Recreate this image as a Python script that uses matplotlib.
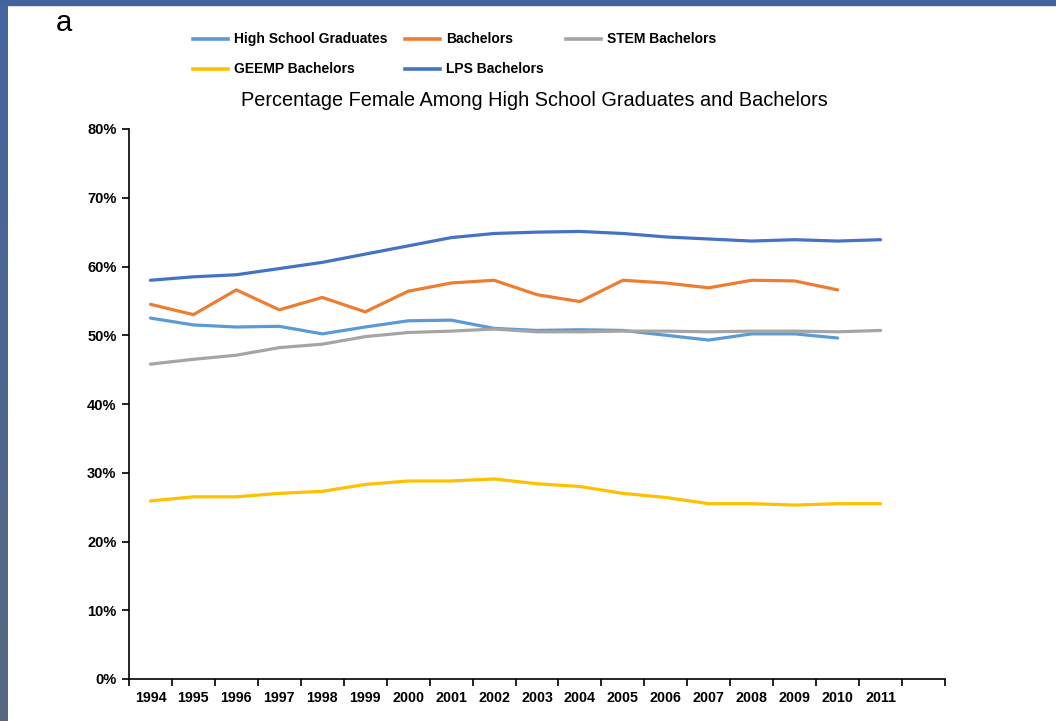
import numpy as np
import matplotlib
matplotlib.use("Agg")
import matplotlib.pyplot as plt
from matplotlib.lines import Line2D
from matplotlib.ticker import FixedLocator, NullFormatter

# data (percent female)
years = [str(y) for y in range(1994, 2012)]
high_school = [52.5, 51.5, 51.2, 51.3, 50.2, 51.2, 52.1, 52.2, 51.0,
               50.7, 50.8, 50.7, 50.0, 49.3, 50.2, 50.2, 49.6]
bachelors = [54.5, 53.0, 56.6, 53.7, 55.5, 53.4, 56.4, 57.6, 58.0,
             55.9, 54.9, 58.0, 57.6, 56.9, 58.0, 57.9, 56.6]
stem = [45.8, 46.5, 47.1, 48.2, 48.7, 49.8, 50.4, 50.6, 50.9,
        50.5, 50.5, 50.6, 50.6, 50.5, 50.6, 50.6, 50.5, 50.7]
geemp = [25.9, 26.5, 26.5, 27.0, 27.3, 28.3, 28.8, 28.8, 29.1,
         28.4, 28.0, 27.0, 26.4, 25.5, 25.5, 25.3, 25.5, 25.5]
lps = [58.0, 58.5, 58.8, 59.7, 60.6, 61.8, 63.0, 64.2, 64.8,
       65.0, 65.1, 64.8, 64.3, 64.0, 63.7, 63.9, 63.7, 63.9]

series = [
    ("High School Graduates", high_school, "#5B9BD5"),
    ("Bachelors", bachelors, "#ED7D31"),
    ("STEM Bachelors", stem, "#A5A5A5"),
    ("GEEMP Bachelors", geemp, "#FFC000"),
    ("LPS Bachelors", lps, "#4472C4"),
]

W, H = 1056, 721
fig = plt.figure(figsize=(W / 100, H / 100), dpi=100)
fig.patch.set_facecolor("white")

def fx(px):
    return px / W

def fy(py):
    return 1 - py / H

# slide background showing at the edges
strip = fig.add_axes([0, 0, fx(8), 1])
grad = np.linspace(0, 1, 256).reshape(-1, 1)
cmap = matplotlib.colors.LinearSegmentedColormap.from_list("s", ["#4565A2", "#55687F"])
strip.imshow(grad, aspect="auto", cmap=cmap, extent=[0, 1, 0, 1], origin="upper")
strip.axis("off")
fig.patches.append(plt.Rectangle((0, fy(5)), 1, fx(5) * W / H, transform=fig.transFigure,
                                 color="#4263A0", zorder=5))

ax = fig.add_axes([fx(129), fy(679), fx(945 - 129), fy(129) - fy(679)])
x = np.arange(len(years))
for name, vals, col in series:
    ax.plot(x[:len(vals)], vals, color=col, lw=2.3, solid_capstyle="round")

ax.set_xlim(-0.5, len(years) + 0.5)
ax.set_ylim(0, 80)
ax.set_yticks(range(0, 81, 10))
ax.set_yticklabels([f"{v}%" for v in range(0, 81, 10)], fontsize=10.5, fontweight="bold",
                   family="Liberation Sans")
ax.xaxis.set_major_locator(FixedLocator(np.arange(-0.5, len(years) + 1, 1)))
ax.xaxis.set_major_formatter(NullFormatter())
ax.set_xticks(x, minor=True)
ax.set_xticklabels(years, minor=True, fontsize=10.3, fontweight="bold",
                   family="Liberation Sans")
for lab in ax.get_xticklabels(minor=True):
    lab.set_fontstretch("condensed")
ax.tick_params(axis="x", which="minor", length=0, pad=9)
ax.tick_params(axis="both", which="major", length=5, width=1.2, color="black")
ax.tick_params(axis="y", pad=4)
for s in ["top", "right"]:
    ax.spines[s].set_visible(False)
for s in ["left", "bottom"]:
    ax.spines[s].set_linewidth(1.2)

fig.text(fx(534), fy(100), "Percentage Female Among High School Graduates and Bachelors",
         ha="center", va="center", fontsize=14.3, family="Liberation Sans")
fig.text(fx(56), fy(23), "a", ha="left", va="center", fontsize=21, family="Liberation Sans")

# legend laid out like the original, in two rows
legend_pos = [(193, 39), (405, 39), (566, 39), (193, 69), (405, 69)]
for (name, vals, col), (lx, ly) in zip(series, legend_pos):
    fig.add_artist(Line2D([fx(lx), fx(lx + 35)], [fy(ly), fy(ly)], color=col, lw=2.6,
                          transform=fig.transFigure))
    fig.text(fx(lx + 41), fy(ly), name, ha="left", va="center", fontsize=10,
             fontweight="bold", family="Liberation Sans")

fig.savefig("out.png", dpi=100)
